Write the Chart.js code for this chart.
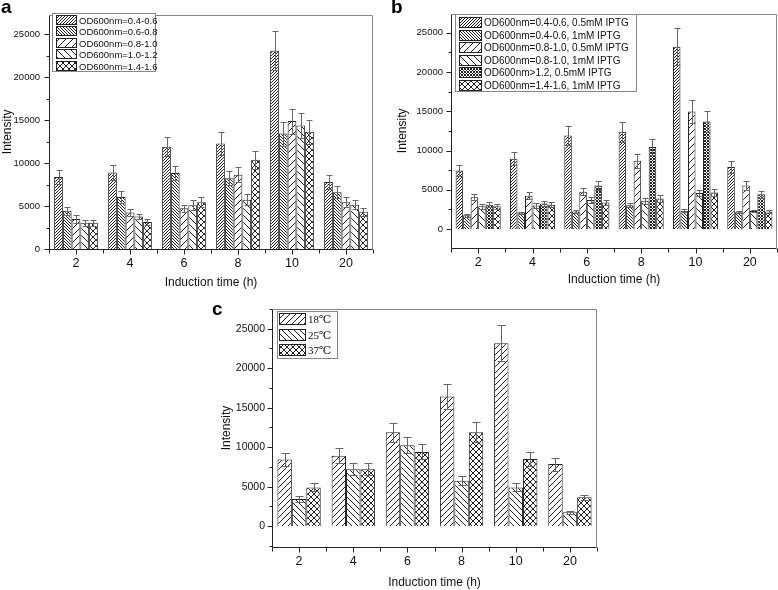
<!DOCTYPE html>
<html>
<head>
<meta charset="utf-8">
<script src="https://cdn.jsdelivr.net/npm/chart.js@4"></script>
<style>
  body { margin: 0; width: 778px; height: 590px; background: #fff; position: relative; overflow: hidden; font-family: "Liberation Sans", Arial, sans-serif; }
  canvas { position: absolute; }
  .panel-tag { position: absolute; font-weight: bold; font-size: 19px; color: #000; }
</style>
</head>
<body>
<canvas id="chartA" width="390" height="295" style="left:0;top:0"></canvas>
<canvas id="chartB" width="388" height="295" style="left:390px;top:0"></canvas>
<canvas id="chartC" width="400" height="300" style="left:200px;top:290px"></canvas>
<div class="panel-tag" style="left:1px;top:-4px">a</div>
<div class="panel-tag" style="left:391px;top:-4px">b</div>
<div class="panel-tag" style="left:212px;top:298px">c</div>
<script>
// --- Data ---
const timeLabels = ['2', '4', '6', '8', '10', '20'];
const yTicks = [0, 5000, 10000, 15000, 20000, 25000];

// panel a : OD600 at induction
const aOd0406 = [8400, 8900, 11900, 12300, 23100, 7800];
const aOd0406Err = [850, 850, 1100, 1300, 2300, 800];
const aOd0608 = [4450, 6050, 8850, 8250, 13450, 6600];
const aOd0608Err = [470, 650, 850, 800, 1400, 700];
const aOd0810 = [3500, 4250, 4750, 8650, 14900, 5450];
const aOd0810Err = [420, 420, 430, 900, 1450, 580];
const aOd1012 = [3050, 3800, 5100, 5750, 14400, 5150];
const aOd1012Err = [380, 320, 580, 630, 1450, 520];
const aOd1416 = [3050, 3150, 5450, 10400, 13650, 4350];
const aOd1416Err = [350, 350, 580, 1050, 1400, 460];

// panel b : OD600 and IPTG
const bOd0406Low = [7450, 8950, 11900, 12400, 23200, 7900];
const bOd0406LowErr = [720, 850, 1200, 1280, 2330, 800];
const bOd0406High = [1750, 2100, 2250, 3050, 2350, 2150];
const bOd0406HighErr = [170, 130, 170, 250, 170, 130];
const bOd0810Low = [4050, 4250, 4750, 8700, 14950, 5550];
const bOd0810LowErr = [380, 430, 460, 900, 1480, 520];
const bOd0810High = [2900, 3000, 3700, 3600, 4600, 2300];
const bOd0810HighErr = [330, 370, 360, 400, 420, 170];
const bOd12Low = [3100, 3250, 5550, 10450, 13700, 4450];
const bOd12LowErr = [330, 300, 590, 1060, 1370, 430];
const bOd1416High = [2900, 3100, 3400, 3900, 4650, 2250];
const bOd1416HighErr = [300, 290, 350, 420, 420, 170];

// panel c : temperature
const c18 = [8450, 8900, 11900, 16400, 23150, 7850];
const c18Err = [850, 940, 1200, 1620, 2300, 830];
const c25 = [3430, 7200, 10250, 5750, 4900, 1750];
const c25Err = [370, 760, 1020, 560, 500, 200];
const c37 = [4900, 7200, 9400, 11900, 8500, 3650];
const c37Err = [500, 750, 950, 1230, 880, 340];

Chart.defaults.font.family = '"Liberation Sans", Arial, sans-serif';
Chart.defaults.color = '#111';

// hatch fill: '/', '\\' or 'x', s = period in px
const makeHatch = (ctx, kind, s) => {
    const c = document.createElement('canvas');
    c.width = s; c.height = s;
    const g = c.getContext('2d');
    g.fillStyle = '#fff';
    g.fillRect(0, 0, s, s);
    g.strokeStyle = '#222';
    g.lineWidth = 1;
    g.beginPath();
    if (kind === '/' || kind === 'x') {
        g.moveTo(-1, s + 1); g.lineTo(s + 1, -1);
        g.moveTo(-1, 1); g.lineTo(1, -1);
        g.moveTo(s - 1, s + 1); g.lineTo(s + 1, s - 1);
    }
    if (kind === '\\' || kind === 'x') {
        g.moveTo(-1, -1); g.lineTo(s + 1, s + 1);
        g.moveTo(s - 1, -1); g.lineTo(s + 1, 1);
        g.moveTo(-1, s - 1); g.lineTo(1, s + 1);
    }
    g.stroke();
    return ctx.createPattern(c, 'repeat');
};

// error bars, both caps
const errorBars = {
    id: 'errorBars',
    afterDatasetsDraw(chart, args, opts) {
        const { ctx } = chart;
        const y = chart.scales.y;
        ctx.save();
        ctx.strokeStyle = '#666';
        ctx.lineWidth = 1;
        chart.data.datasets.forEach((ds, i) => {
            chart.getDatasetMeta(i).data.forEach((bar, j) => {
                const v = ds.data[j], e = ds.errors[j];
                const top = Math.round(y.getPixelForValue(v + e)) + 0.5;
                const bot = Math.round(y.getPixelForValue(v - e)) + 0.5;
                const x = Math.round(bar.x) + 0.5;
                const w = opts.cap;
                ctx.beginPath();
                ctx.moveTo(x, top); ctx.lineTo(x, bot);
                ctx.moveTo(x - w, top); ctx.lineTo(x + w, top);
                ctx.moveTo(x - w, bot); ctx.lineTo(x + w, bot);
                ctx.stroke();
            });
        });
        ctx.restore();
    }
};

// box frame + outward ticks (major / minor)
const frame = {
    id: 'frame',
    afterDraw(chart) {
        const { ctx, chartArea: a } = chart;
        const { x, y } = chart.scales;
        const L = Math.round(a.left) + 0.5, R = Math.round(a.right) - 0.5;
        const T = Math.round(a.top) + 0.5, B = Math.round(a.bottom) + 0.5;
        ctx.save();
        ctx.lineWidth = 1;
        ctx.strokeStyle = '#888';
        ctx.beginPath();
        ctx.moveTo(L, T); ctx.lineTo(R, T); ctx.lineTo(R, B);
        ctx.stroke();
        ctx.strokeStyle = '#222';
        ctx.beginPath();
        ctx.moveTo(L, T); ctx.lineTo(L, B); ctx.lineTo(R, B);
        for (let v = Math.ceil(y.min / 2500) * 2500; v <= y.max; v += 2500) {
            const py = Math.round(y.getPixelForValue(v)) + 0.5;
            const len = v % 5000 === 0 ? 5 : 3;
            ctx.moveTo(L - len, py); ctx.lineTo(L, py);
        }
        const n = chart.data.labels.length;
        const step = (a.right - a.left) / n;
        for (let i = 0; i <= n; i++) {
            const px = Math.round(a.left + i * step) + 0.5;
            ctx.moveTo(px, B); ctx.lineTo(px, B + 4);
        }
        for (let i = 0; i < n; i++) {
            const px = Math.round(x.getPixelForValue(i)) + 0.5;
            ctx.moveTo(px, B); ctx.lineTo(px, B + 5);
        }
        ctx.stroke();
        ctx.restore();
    }
};

// legend box drawn inside the plot
const boxLegend = {
    id: 'boxLegend',
    afterDraw(chart, args, o) {
        const { ctx } = chart;
        ctx.save();
        ctx.fillStyle = '#fff';
        ctx.fillRect(o.x, o.y, o.w, o.h);
        ctx.strokeStyle = '#888';
        ctx.lineWidth = 1;
        ctx.strokeRect(o.x + 0.5, o.y + 0.5, o.w, o.h);
        ctx.font = o.font;
        ctx.textBaseline = 'middle';
        chart.data.datasets.forEach((ds, i) => {
            const cy = Math.round(o.y + o.first + i * o.rowH);
            const top = cy - Math.round(o.swH / 2);
            ctx.fillStyle = ds.backgroundColor;
            ctx.fillRect(o.swX, top, o.swW, o.swH);
            ctx.strokeStyle = '#222';
            ctx.strokeRect(o.swX + 0.5, top + 0.5, o.swW, o.swH);
            ctx.fillStyle = '#111';
            ctx.fillText(ds.label, o.swX + o.swW + o.gap, cy + 1);
        });
        ctx.restore();
    }
};

const buildChart = (id, series, cfg) => {
    const canvas = document.getElementById(id);
    const ctx = canvas.getContext('2d');
    const W = canvas.width, H = canvas.height;
    return new Chart(ctx, {
        type: 'bar',
        data: {
            labels: timeLabels,
            datasets: series.map(s => ({
                label: s.label,
                data: s.data,
                errors: s.errors,
                backgroundColor: makeHatch(ctx, s.hatch[0], s.hatch[1]),
                borderColor: '#222',
                borderWidth: 1,
                categoryPercentage: cfg.catPct,
                barPercentage: 1
            }))
        },
        options: {
            responsive: false,
            animation: false,
            layout: { padding: { left: 0, top: cfg.area.top, right: W - cfg.area.right, bottom: 0 } },
            scales: {
                x: {
                    grid: { display: false, drawTicks: false },
                    border: { display: false },
                    ticks: { font: { size: 12.5 }, padding: cfg.xPad, maxRotation: 0 },
                    title: { display: true, text: 'Induction time (h)', font: { size: 12 }, padding: cfg.xTitlePad },
                    afterFit: s => { s.height = H - cfg.area.bottom; }
                },
                y: {
                    min: cfg.yMin,
                    max: cfg.yMax,
                    grid: { display: false, drawTicks: false },
                    border: { display: false },
                    ticks: { font: { size: cfg.yFont }, padding: cfg.yPad, callback: v => String(v) },
                    afterBuildTicks: s => { s.ticks = yTicks.map(v => ({ value: v })); },
                    title: { display: true, text: 'Intensity', font: { size: 12 }, padding: cfg.yTitlePad },
                    afterFit: s => { s.width = cfg.area.left; }
                }
            },
            plugins: {
                legend: { display: false },
                tooltip: { enabled: false },
                errorBars: { cap: cfg.cap },
                boxLegend: cfg.legend
            }
        },
        plugins: [errorBars, frame, boxLegend]
    });
};

buildChart('chartA', [
    { label: 'OD600nm=0.4-0.6', data: aOd0406, errors: aOd0406Err, hatch: ['/', 3] },
    { label: 'OD600nm=0.6-0.8', data: aOd0608, errors: aOd0608Err, hatch: ['\\', 3] },
    { label: 'OD600nm=0.8-1.0', data: aOd0810, errors: aOd0810Err, hatch: ['/', 7] },
    { label: 'OD600nm=1.0-1.2', data: aOd1012, errors: aOd1012Err, hatch: ['\\', 7] },
    { label: 'OD600nm=1.4-1.6', data: aOd1416, errors: aOd1416Err, hatch: ['x', 6] }
], {
    area: { left: 49, top: 13, right: 373, bottom: 249 },
    yMin: 0, yMax: 27300, catPct: 0.81, cap: 3,
    yFont: 9.5, yPad: 9, yTitlePad: 0, xPad: 7, xTitlePad: 5,
    legend: { x: 52, y: 13, w: 103, h: 58, first: 6.5, rowH: 11.6, swX: 56, swW: 20, swH: 9, gap: 3, font: '9.5px "Liberation Sans", Arial, sans-serif' }
});

buildChart('chartB', [
    { label: 'OD600nm=0.4-0.6, 0.5mM IPTG', data: bOd0406Low, errors: bOd0406LowErr, hatch: ['/', 3] },
    { label: 'OD600nm=0.4-0.6, 1mM IPTG', data: bOd0406High, errors: bOd0406HighErr, hatch: ['\\', 3] },
    { label: 'OD600nm=0.8-1.0, 0.5mM IPTG', data: bOd0810Low, errors: bOd0810LowErr, hatch: ['/', 7] },
    { label: 'OD600nm=0.8-1.0, 1mM IPTG', data: bOd0810High, errors: bOd0810HighErr, hatch: ['\\', 7] },
    { label: 'OD600nm>1.2, 0.5mM IPTG', data: bOd12Low, errors: bOd12LowErr, hatch: ['x', 3] },
    { label: 'OD600nm=1.4-1.6, 1mM IPTG', data: bOd1416High, errors: bOd1416HighErr, hatch: ['x', 6] }
], {
    area: { left: 61, top: 13, right: 387, bottom: 248 },
    yMin: -2400, yMax: 27400, catPct: 0.83, cap: 3,
    yFont: 9.5, yPad: 8, yTitlePad: 5, xPad: 7, xTitlePad: 8,
    legend: { x: 65, y: 14, w: 181, h: 77, first: 8, rowH: 12.5, swX: 69, swW: 22, swH: 10, gap: 3, font: '10px "Liberation Sans", Arial, sans-serif' }
});

buildChart('chartC', [
    { label: '18℃', data: c18, errors: c18Err, hatch: ['/', 6] },
    { label: '25℃', data: c25, errors: c25Err, hatch: ['\\', 6] },
    { label: '37℃', data: c37, errors: c37Err, hatch: ['x', 6] }
], {
    area: { left: 72, top: 19, right: 397, bottom: 257 },
    yMin: -2650, yMax: 27500, catPct: 0.8, cap: 4,
    yFont: 10.5, yPad: 7, yTitlePad: 19, xPad: 7, xTitlePad: 0,
    legend: { x: 77, y: 21, w: 60, h: 47, first: 8, rowH: 15.5, swX: 79, swW: 26, swH: 11, gap: 3, font: '11px "Liberation Serif", "DejaVu Serif", serif' }
});
</script>
</body>
</html>
